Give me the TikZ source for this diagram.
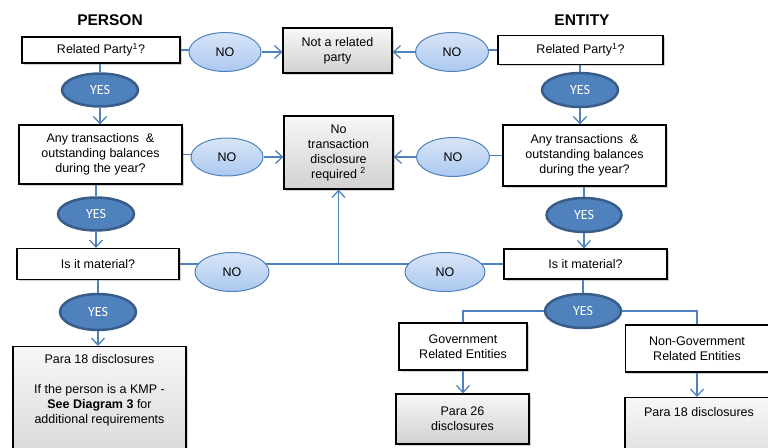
\documentclass[tikz,border=0pt]{standalone}
\usepackage{fontspec}
\setmainfont{Liberation Sans}
\newfontfamily\yesfont{Carlito}
\usetikzlibrary{shapes.geometric, arrows.meta, shadows, backgrounds}
\definecolor{linkblue}{RGB}{79, 129, 189}
\definecolor{yesedge}{RGB}{56, 93, 138}
\definecolor{notop}{RGB}{216, 229, 247}
\definecolor{nobot}{RGB}{172, 200, 240}

\begin{document}
\begin{tikzpicture}[x=1pt, y=-1pt,
  qbox/.style={draw=black, fill=white, line width=1.2pt, align=center, inner sep=0pt, font=\fontsize{12.5}{15}\selectfont, drop shadow={shadow xshift=1.5pt, shadow yshift=-1.5pt, opacity=0.35}},
  rbox/.style={qbox, top color=gray!6, bottom color=gray!36},
  nobub/.style={ellipse, draw=linkblue, line width=1pt, top color=notop, bottom color=nobot, inner sep=0pt, font=\fontsize{12.5}{15}\selectfont},
  yesbub/.style={ellipse, draw=yesedge, line width=2.5pt, fill=linkblue, text=white, inner sep=0pt, font=\yesfont\fontsize{14}{16}\selectfont},
  link/.style={draw=linkblue, line width=1.3pt},
  arr/.style={link, -{Straight Barb[length=7pt, width=13pt]}},
  title/.style={font=\bfseries\fontsize{15.5}{18}\selectfont}
]
  \useasboundingbox (0,0) rectangle (768,447);
  \clip (0,0) rectangle (768,447);

  \node[title] (personT) at (110,20) {PERSON};
  \node[title] (entityT) at (582,20) {ENTITY};

  \node[qbox, minimum width=158pt, minimum height=26pt] (relP) at (101,50) {Related Party\textsuperscript{1}?};
  \node[nobub, minimum width=72pt, minimum height=39pt] (noA) at (225,52) {NO};
  \node[rbox, minimum width=109pt, minimum height=45pt] (notRel) at (337.5,50.5) {Not a related\\party};
  \node[yesbub, minimum width=76pt, minimum height=33pt] (yesA) at (100,90) {YES};
  \node[qbox, minimum width=163pt, minimum height=59pt] (txP) at (100.5,154.5) {Any transactions\ \ \&\\outstanding balances\\during the year?};
  \node[nobub, minimum width=72pt, minimum height=38pt] (noB) at (227,157) {NO};
  \node[rbox, minimum width=109pt, minimum height=73pt] (noTx) at (338.5,152.5) {No\\transaction\\disclosure\\required \textsuperscript{2}};
  \node[yesbub, minimum width=76pt, minimum height=33pt] (yesB) at (96,214) {YES};
  \node[qbox, minimum width=162pt, minimum height=31pt] (matP) at (98,264) {Is it material?};
  \node[nobub, minimum width=74pt, minimum height=39pt] (noC) at (232,272) {NO};
  \node[yesbub, minimum width=76pt, minimum height=36pt] (yesC) at (98,312) {YES};
  \node[rbox, anchor=north, minimum width=173pt, inner ysep=8pt] (paraP) at (99.5,346)
    {Para 18 disclosures\\[15pt]If the person is a KMP -\\\textbf{See Diagram 3} for\\additional requirements\\[40pt]\mbox{}};

  \node[qbox, minimum width=165pt, minimum height=29pt] (relE) at (580.5,50) {Related Party\textsuperscript{1}?};
  \node[nobub, minimum width=73pt, minimum height=39pt] (noD) at (452,52) {NO};
  \node[yesbub, minimum width=76pt, minimum height=34pt] (yesD) at (580,90) {YES};
  \node[qbox, minimum width=163pt, minimum height=61pt] (txE) at (584.5,155.5) {Any transactions\ \ \&\\outstanding balances\\during the year?};
  \node[nobub, minimum width=73pt, minimum height=39pt] (noE) at (453,157) {NO};
  \node[yesbub, minimum width=75pt, minimum height=34pt] (yesE) at (584,215) {YES};
  \node[qbox, minimum width=163pt, minimum height=30pt] (matE) at (585.5,264) {Is it material?};
  \node[nobub, minimum width=80pt, minimum height=39pt] (noF) at (445,272) {NO};
  \node[yesbub, minimum width=76pt, minimum height=34pt] (yesF) at (583,311) {YES};
  \node[qbox, minimum width=128pt, minimum height=47pt] (govE) at (463,346.5) {Government\\Related Entities};
  \node[qbox, minimum width=143pt, minimum height=47pt] (ngovE) at (697,348.5) {Non-Government\\Related Entities};
  \node[rbox, minimum width=133pt, minimum height=50pt] (para26) at (462.5,419) {Para 26\\disclosures};
  \node[rbox, anchor=north, minimum width=148pt, inner ysep=10pt] (paraE) at (699,397)
    {Para 18 disclosures\\[50pt]\mbox{}};

  \coordinate (join) at (noTx.south |- matP.east);

  \begin{scope}[on background layer]
    \draw[link] (relP.east) -- (relP.east -| noA);
    \draw[arr] (noA) -- (noA -| notRel.west);
    \draw[link] (relE.west) -- (relE.west -| noD);
    \draw[arr] (noD) -- (noD -| notRel.east);

    \draw[link] (txP.east) -- (txP.east -| noB);
    \draw[arr] (noB) -- (noB -| noTx.west);
    \draw[link] (txE.west) -- (txE.west -| noE);
    \draw[arr] (noE) -- (noE -| noTx.east);

    \draw[link] (matP.east) -- (join);
    \draw[link] (matE.west) -- (join);
    \draw[arr] (join) -- (noTx.south);

    \draw[link] (yesA |- relP.south) -- (yesA);
    \draw[arr] (yesA) -- (yesA |- txP.north);
    \draw[link] (yesB |- txP.south) -- (yesB);
    \draw[arr] (yesB) -- (yesB |- matP.north);
    \draw[link] (yesC |- matP.south) -- (yesC);
    \draw[arr] (yesC) -- (yesC |- paraP.north);

    \draw[link] (yesD |- relE.south) -- (yesD);
    \draw[arr] (yesD) -- (yesD |- txE.north);
    \draw[link] (yesE |- txE.south) -- (yesE);
    \draw[arr] (yesE) -- (yesE |- matE.north);
    \draw[link] (yesF |- matE.south) -- (yesF);
    \draw[link] (yesF) -| (govE.north);
    \draw[link] (yesF) -| (ngovE.north);
    \draw[arr] (govE.south) -- (govE.south |- para26.north);
    \draw[arr] (ngovE.south) -- (ngovE.south |- paraE.north);
  \end{scope}
\end{tikzpicture}
\end{document}
